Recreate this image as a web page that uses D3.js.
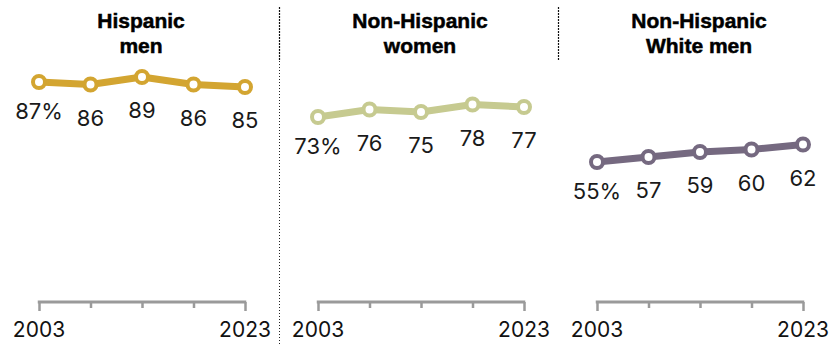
<!DOCTYPE html>
<html>
<head>
<meta charset="utf-8">
<script src="https://cdn.jsdelivr.net/npm/d3@7"></script>
<style>
  html, body { margin: 0; padding: 0; background: #fff; }
  svg { display: block; }
  .title { font-family: "Liberation Sans", Arial, sans-serif; font-weight: bold; font-size: 21px; fill: #000; stroke: #000; stroke-width: 0.5px; }
  .val { font-family: Inter, "Liberation Sans", Arial, sans-serif; font-size: 22px; fill: #1a1a1a; }
  .year { font-family: Inter, "Liberation Sans", Arial, sans-serif; font-size: 21px; fill: #111; }
</style>
</head>
<body>
<svg id="chart" width="839" height="345"></svg>
<script>
// Survey years shown on each small multiple
const years = [2003, 2008, 2013, 2018, 2023];
const yearLabels = ["2003", "2023"];

// Group names (title lines) and their colours
const groups = [
  ["Hispanic", "men"],
  ["Non-Hispanic", "women"],
  ["Non-Hispanic", "White men"]
];
const colors = ["#D3A531", "#C6CA90", "#756980"];

// Share (%) for each group by year
const hispanicMen = [87, 86, 89, 86, 85];
const nonHispanicWomen = [73, 76, 75, 78, 77];
const nonHispanicWhiteMen = [55, 57, 59, 60, 62];
const series = [hispanicMen, nonHispanicWomen, nonHispanicWhiteMen];

const svg = d3.select("#chart");
const panelWidth = 279;
const plotLeft = 39;
const plotWidth = 206;
const axisY = 302;

const x = d3.scaleLinear().domain([years[0], years[years.length - 1]]).range([0, plotWidth]);
const y = d3.scaleLinear().domain([0, 100]).range([299.5, 49.5]);

// Dotted dividers between panels
svg.append("line")
  .attr("x1", 279.5).attr("x2", 279.5).attr("y1", 7).attr("y2", 345)
  .attr("stroke", "#222").attr("stroke-width", 1).attr("stroke-dasharray", "1,2");
[279.5, 558.5].forEach(xx => {
  svg.append("line")
    .attr("x1", xx).attr("x2", xx).attr("y1", 7).attr("y2", 61)
    .attr("stroke", "#111").attr("stroke-width", 1.2).attr("stroke-dasharray", "2,1");
});

series.forEach((vals, i) => {
  const g = svg.append("g").attr("transform", `translate(${i * panelWidth + plotLeft},0)`);
  const color = colors[i];
  const data = years.map((yr, j) => ({ year: yr, value: vals[j] }));

  // Title
  const t = g.append("text").attr("class", "title").attr("text-anchor", "middle")
    .attr("x", plotWidth / 2 - 1).attr("y", 28);
  groups[i].forEach((line, k) => {
    t.append("tspan").attr("x", plotWidth / 2 - 1).attr("dy", k === 0 ? 0 : 25).text(line);
  });

  // Axis
  const axis = d3.axisBottom(x).tickValues(years).tickSize(6).tickFormat("");
  const ag = g.append("g").attr("transform", `translate(0,${axisY})`).call(axis);
  ag.select(".domain").remove();
  ag.selectAll(".tick line").attr("stroke", "#9a9a9a").attr("stroke-width", 2.5)
    .attr("y2", (d, j) => (j === 0 || j === years.length - 1) ? 9 : 6);
  ag.append("line")
    .attr("x1", x(years[0]) - 1.25).attr("x2", x(years[years.length - 1]) + 1.25)
    .attr("y1", 0).attr("y2", 0)
    .attr("stroke", "#9a9a9a").attr("stroke-width", 3);

  // Year labels at the ends
  g.selectAll(".year").data([years[0], years[years.length - 1]]).join("text")
    .attr("class", "year").attr("text-anchor", "middle")
    .attr("x", d => x(d)).attr("y", 337)
    .text((d, j) => yearLabels[j]);

  // Line
  g.append("path").datum(data)
    .attr("fill", "none").attr("stroke", color).attr("stroke-width", 7)
    .attr("stroke-linejoin", "round")
    .attr("d", d3.line().x(d => x(d.year)).y(d => y(d.value)));

  // Markers
  g.selectAll("circle").data(data).join("circle")
    .attr("cx", d => x(d.year)).attr("cy", d => y(d.value))
    .attr("r", 6).attr("fill", "#fff").attr("stroke", color).attr("stroke-width", 4);

  // Value labels
  g.selectAll(".val").data(data).join("text")
    .attr("class", "val").attr("text-anchor", "middle")
    .attr("x", d => x(d.year))
    .attr("y", (d, j) => y(d.value) + (j === 0 ? 37 : 41))
    .text((d, j) => j === 0 ? d.value + "%" : d.value);
});
</script>
</body>
</html>
